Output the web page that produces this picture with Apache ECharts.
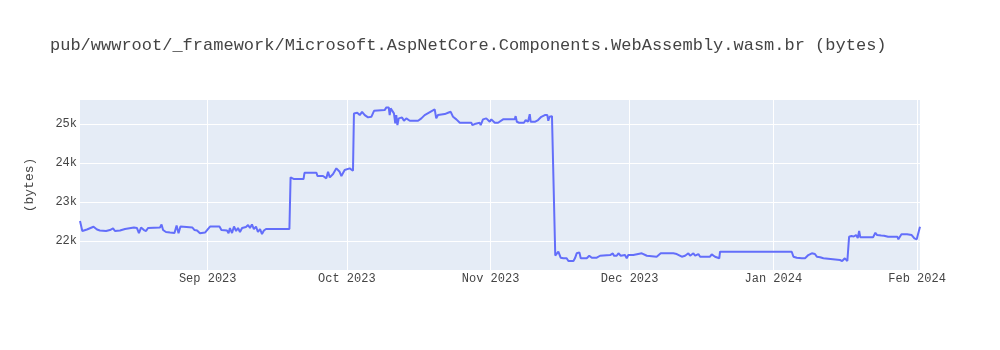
<!DOCTYPE html>
<html>
<head>
<meta charset="utf-8">
<script src="https://cdn.jsdelivr.net/npm/echarts@6/dist/echarts.min.js"></script>
<style>html,body{margin:0;padding:0;background:#fff}#c{width:1000px;height:350px}</style>
</head>
<body>
<div id="c"></div>
<script>
const titleText = 'pub/wwwroot/_framework/Microsoft.AspNetCore.Components.WebAssembly.wasm.br (bytes)';
const yAxisTitle = '(bytes)';
const monthNames = ['Jan','Feb','Mar','Apr','May','Jun','Jul','Aug','Sep','Oct','Nov','Dec'];
const xRange = ['2023-08-04 11:00', '2024-02-01 15:00'];
const yRange = [21262, 25623];

const dates = [
'2023-08-04 11:00','2023-08-04 23:00','2023-08-05 23:00','2023-08-07 09:00','2023-08-08 03:00','2023-08-08 18:00',
'2023-08-10 02:00','2023-08-10 22:00','2023-08-11 14:00','2023-08-12 00:00','2023-08-13 02:00','2023-08-14 04:00',
'2023-08-14 12:00','2023-08-16 02:00','2023-08-16 18:00','2023-08-17 04:00','2023-08-17 15:00','2023-08-18 06:00',
'2023-08-18 17:00','2023-08-19 03:00','2023-08-21 17:00','2023-08-22 01:00','2023-08-22 09:00','2023-08-22 16:00',
'2023-08-23 00:00','2023-08-23 21:00','2023-08-24 20:00','2023-08-25 07:00','2023-08-25 17:00','2023-08-26 03:00',
'2023-08-26 11:00','2023-08-28 17:00','2023-08-29 04:00','2023-08-29 17:00','2023-08-30 08:00','2023-08-31 10:00',
'2023-09-01 12:00','2023-09-03 13:00','2023-09-03 23:00','2023-09-05 04:00','2023-09-05 12:00','2023-09-05 19:00',
'2023-09-06 06:00','2023-09-06 16:00','2023-09-07 03:00','2023-09-07 13:00','2023-09-07 23:00','2023-09-08 10:00',
'2023-09-08 20:00','2023-09-09 06:00','2023-09-09 17:00','2023-09-10 03:00','2023-09-10 13:00','2023-09-10 23:00',
'2023-09-11 10:00','2023-09-11 20:00','2023-09-12 07:00','2023-09-12 17:00','2023-09-13 03:00','2023-09-13 14:00',
'2023-09-18 15:00','2023-09-18 21:00','2023-09-19 04:00','2023-09-19 15:00','2023-09-21 16:00','2023-09-21 21:00',
'2023-09-24 11:00','2023-09-24 16:00','2023-09-25 21:00','2023-09-26 14:00','2023-09-26 23:00','2023-09-27 08:00',
'2023-09-28 01:00','2023-09-28 18:00','2023-09-29 11:00','2023-09-29 20:00','2023-09-30 04:00','2023-09-30 13:00',
'2023-09-30 22:00','2023-10-01 15:00','2023-10-01 23:00','2023-10-02 08:00','2023-10-02 13:00','2023-10-02 20:00',
'2023-10-03 06:00','2023-10-03 19:00','2023-10-04 07:00','2023-10-04 21:00','2023-10-05 14:00','2023-10-06 07:00',
'2023-10-06 21:00','2023-10-09 04:00','2023-10-09 13:00','2023-10-10 01:00','2023-10-10 06:00','2023-10-10 11:00',
'2023-10-10 18:00','2023-10-11 04:00','2023-10-11 11:00','2023-10-11 16:00','2023-10-11 22:00','2023-10-12 05:00',
'2023-10-12 15:00','2023-10-12 22:00','2023-10-13 08:00','2023-10-13 20:00','2023-10-14 14:00','2023-10-16 09:00',
'2023-10-17 02:00','2023-10-17 19:00','2023-10-19 23:00','2023-10-20 07:00','2023-10-20 16:00','2023-10-22 03:00',
'2023-10-22 20:00','2023-10-23 10:00','2023-10-23 17:00','2023-10-23 22:00','2023-10-24 07:00','2023-10-24 15:00',
'2023-10-24 23:00','2023-10-25 09:00','2023-10-27 21:00','2023-10-28 02:00','2023-10-28 14:00','2023-10-28 23:00',
'2023-10-29 16:00','2023-10-29 21:00','2023-10-30 09:00','2023-10-30 18:00','2023-10-31 02:00','2023-10-31 11:00',
'2023-10-31 20:00','2023-11-01 04:00','2023-11-01 13:00','2023-11-01 22:00','2023-11-02 06:00','2023-11-02 15:00',
'2023-11-02 23:00','2023-11-03 17:00','2023-11-06 05:00','2023-11-06 10:00','2023-11-06 16:00','2023-11-06 22:00',
'2023-11-07 04:00','2023-11-08 05:00','2023-11-08 14:00','2023-11-09 02:00','2023-11-09 11:00','2023-11-09 16:00',
'2023-11-10 13:00','2023-11-11 06:00','2023-11-11 23:00','2023-11-12 17:00','2023-11-13 06:00','2023-11-13 11:00',
'2023-11-13 18:00','2023-11-13 23:00','2023-11-14 06:00','2023-11-14 12:00','2023-11-14 23:00','2023-11-15 15:00',
'2023-11-16 03:00','2023-11-16 17:00','2023-11-17 10:00','2023-11-17 19:00','2023-11-18 21:00','2023-11-19 05:00',
'2023-11-19 14:00','2023-11-20 04:00','2023-11-20 11:00','2023-11-21 18:00','2023-11-22 07:00','2023-11-22 11:00',
'2023-11-22 20:00','2023-11-23 22:00','2023-11-24 15:00','2023-11-26 19:00','2023-11-27 09:00','2023-11-27 15:00',
'2023-11-27 22:00','2023-11-28 05:00','2023-11-28 14:00','2023-11-29 02:00','2023-11-30 00:00','2023-11-30 09:00',
'2023-11-30 17:00','2023-12-01 19:00','2023-12-03 15:00','2023-12-03 23:00','2023-12-04 17:00','2023-12-06 20:00',
'2023-12-07 05:00','2023-12-07 17:00','2023-12-08 03:00','2023-12-08 15:00','2023-12-10 10:00','2023-12-11 04:00',
'2023-12-12 06:00','2023-12-12 14:00','2023-12-12 23:00','2023-12-13 08:00','2023-12-13 16:00','2023-12-14 01:00',
'2023-12-14 10:00','2023-12-14 18:00','2023-12-15 03:00','2023-12-15 11:00','2023-12-15 20:00','2023-12-16 05:00',
'2023-12-16 13:00','2023-12-17 06:00','2023-12-18 08:00','2023-12-18 17:00','2023-12-19 01:00','2023-12-19 10:00',
'2023-12-19 19:00','2023-12-20 08:00','2023-12-20 12:00','2024-01-04 23:00','2024-01-05 08:00','2024-01-06 01:00',
'2024-01-07 03:00','2024-01-07 20:00','2024-01-08 13:00','2024-01-08 22:00','2024-01-09 07:00','2024-01-09 15:00',
'2024-01-09 23:00','2024-01-10 09:00','2024-01-10 17:00','2024-01-11 02:00','2024-01-11 11:00','2024-01-11 19:00',
'2024-01-12 04:00','2024-01-15 09:00','2024-01-15 20:00','2024-01-16 10:00','2024-01-16 23:00','2024-01-17 08:00',
'2024-01-17 20:00','2024-01-18 08:00','2024-01-18 15:00','2024-01-18 20:00','2024-01-19 05:00','2024-01-19 12:00',
'2024-01-19 18:00','2024-01-22 12:00','2024-01-23 00:00','2024-01-23 09:00','2024-01-24 06:00','2024-01-24 21:00',
'2024-01-25 18:00','2024-01-27 18:00','2024-01-27 23:00','2024-01-28 15:00','2024-01-29 20:00','2024-01-30 20:00',
'2024-01-31 10:00','2024-01-31 22:00','2024-02-01 15:00'
];

const sizes = [
22518,22262,22300,22372,22300,22274,
22262,22287,22330,22262,22274,22313,
22356,22351,22338,22210,22351,22287,
22262,22338,22351,22428,22287,22338,
22236,22223,22210,22403,22203,22377,
22351,22351,22287,22274,22203,22223,
22377,22377,22287,22274,22203,22338,
22210,22377,22262,22338,22236,22338,
22287,22364,22415,22338,22433,22313,
22377,22236,22313,22185,22274,22313,
22313,23638,23633,23595,23595,23756,
23756,23672,23672,23613,23782,23638,
23723,23869,23782,23672,23672,23826,
23808,23869,23910,23808,25279,25236,
25295,25236,25320,25236,25177,25192,
25346,25364,25433,25433,25236,25408,
25364,25279,25023,25236,24979,25151,
25108,25177,25090,25151,25090,25090,
25151,25236,25382,25151,25236,25261,
25295,25320,25279,25192,25192,25126,
25090,25039,25039,24979,25005,25023,
25039,24979,25126,25090,25151,25108,
25064,25126,25090,25039,25090,25039,
25090,25126,25126,25210,25064,25108,
25039,25039,25108,25064,25261,25064,
25064,25108,25192,25236,25236,25090,
25192,25210,25210,25192,21633,21731,
21577,21562,21562,21492,21492,21562,
21690,21713,21562,21562,21628,21672,
21577,21577,21628,21646,21690,21628,
21646,21628,21690,21628,21646,21562,
21646,21646,21690,21646,21628,21603,
21562,21690,21713,21690,21690,21672,
21603,21562,21628,21646,21690,21628,
21646,21690,21628,21628,21672,21603,
21628,21603,21603,21664,21672,21603,
21603,21562,21731,21731,21603,21577,
21562,21562,21646,21690,21690,21646,
21672,21603,21628,21590,21603,21562,
21518,21518,21492,21562,21492,22115,
22133,22121,22074,22159,22082,22262,
22100,22100,22218,22159,22146,22141,
22115,22115,22049,22177,22177,22159,
22074,22049,22372
];

function toTs(s) {
  const [d, t] = s.split(' ');
  const [Y, M, D] = d.split('-').map(Number);
  const [h, mi] = t.split(':').map(Number);
  return new Date(Y, M - 1, D, h, mi).getTime();
}

const FONT = '"Liberation Mono", "Courier New", monospace';
const seriesData = dates.map((d, i) => [toTs(d), sizes[i]]);

const chart = echarts.init(document.getElementById('c'), null, {renderer: 'canvas'});
chart.setOption({
  animation: false,
  backgroundColor: '#fff',
  title: {
    text: titleText,
    left: 45,
    top: 32,
    textStyle: {fontFamily: FONT, fontSize: 17, fontWeight: 'normal', color: '#444'}
  },
  grid: {
    left: 80, right: 80, top: 100, bottom: 80,
    show: true, backgroundColor: '#E5ECF6', borderWidth: 0
  },
  xAxis: {
    type: 'time',
    min: toTs(xRange[0]),
    max: toTs(xRange[1]),
    axisLine: {show: false},
    axisTick: {show: false},
    splitLine: {show: true, showMinLine: false, showMaxLine: false, lineStyle: {color: '#fff', width: 1}},
    axisLabel: {
      color: '#444', fontFamily: FONT, fontSize: 12, margin: 3, hideOverlap: false,
      formatter: function (v) {
        const d = new Date(v);
        if (d.getDate() !== 1 || d.getHours() !== 0) return '';
        return monthNames[d.getMonth()] + ' ' + d.getFullYear();
      }
    }
  },
  yAxis: {
    type: 'value',
    min: yRange[0],
    max: yRange[1],
    splitNumber: 4,
    axisLine: {show: false},
    axisTick: {show: false},
    splitLine: {show: true, showMinLine: false, showMaxLine: false, lineStyle: {color: '#fff', width: 1}},
    axisLabel: {
      color: '#444', fontFamily: FONT, fontSize: 12, margin: 3,
      showMinLabel: false, showMaxLabel: false,
      formatter: function (v) { return v % 1000 === 0 ? (v / 1000) + 'k' : ''; }
    },
    name: yAxisTitle,
    nameLocation: 'middle',
    nameRotate: 90,
    nameGap: 44,
    nameTextStyle: {color: '#444', fontFamily: FONT, fontSize: 13}
  },
  series: [{
    type: 'line',
    data: seriesData,
    showSymbol: false,
    symbol: 'none',
    lineStyle: {color: '#636EFA', width: 2},
    itemStyle: {color: '#636EFA'}
  }]
});
</script>
</body>
</html>
